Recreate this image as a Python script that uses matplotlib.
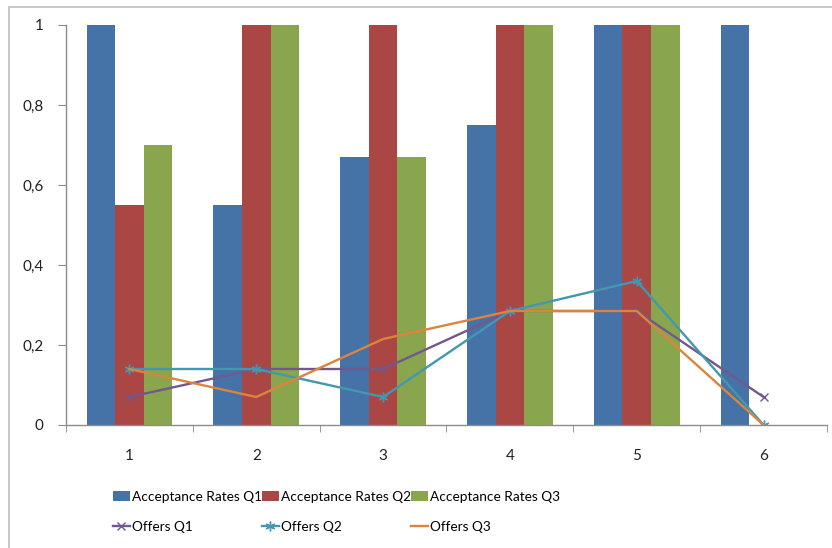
import matplotlib.pyplot as plt
import matplotlib.patches as mpatches
import numpy as np

# ==========================
# DATA
# ==========================

categories = ["1", "2", "3", "4", "5", "6"]

acc_q1 = [1, 0.55, 0.67, 0.75, 1, 1]
acc_q2 = [0.55, 1, 1, 1, 1, 0]
acc_q3 = [0.7, 1, 0.67, 1, 1, 0]

offers_q1 = [0.07, 0.14, 0.14, 0.285, 0.285, 0.07]
offers_q2 = [0.14, 0.14, 0.07, 0.285, 0.36, 0]
offers_q3 = [0.14, 0.07, 0.215, 0.285, 0.285, 0]

yticks = [0, 0.2, 0.4, 0.6, 0.8, 1]
ytick_labels = ["0", "0,2", "0,4", "0,6", "0,8", "1"]

# ==========================
# STYLE
# ==========================

plt.rcParams["font.family"] = ["Lato", "DejaVu Sans"]

blue = "#4572A7"
red = "#AA4643"
green = "#89A54E"
purple = "#71588F"
teal = "#4198AF"
orange = "#DB843D"
axis_gray = "#8C8C8C"

fig = plt.figure(figsize=(8.32, 5.48), dpi=100)

# chart area border (cropped on right / bottom)
fig.patches.append(mpatches.Rectangle(
    (9 / 832, -0.05), 1.0, 1 - 7 / 548 + 0.05,
    transform=fig.transFigure, fill=False,
    edgecolor="#BFBFBF", linewidth=1.2
))

ax = fig.add_axes([66 / 832, 1 - 425 / 548, (827 - 66) / 832, 400 / 548])

x = np.arange(1, len(categories) + 1)
w = 0.225

b1 = ax.bar(x - w, acc_q1, w, color=blue, label="Acceptance Rates Q1")
b2 = ax.bar(x, acc_q2, w, color=red, label="Acceptance Rates Q2")
b3 = ax.bar(x + w, acc_q3, w, color=green, label="Acceptance Rates Q3")

l1, = ax.plot(x, offers_q1, color=purple, linewidth=1.7,
              marker="x", markersize=6, markeredgewidth=1.0,
              label="Offers Q1")
l2, = ax.plot(x, offers_q2, color=teal, linewidth=1.7,
              marker=(6, 2, 0), markersize=7, markeredgewidth=1.0,
              label="Offers Q2")
l3, = ax.plot(x, offers_q3, color=orange, linewidth=1.7,
              label="Offers Q3")

ax.set_xlim(0.5, 6.5)
ax.set_ylim(0, 1)

ax.set_yticks(yticks)
ax.set_yticklabels(ytick_labels)

# labels in the middle, tick marks at category boundaries
ax.set_xticks(x)
ax.set_xticklabels(categories)
ax.set_xticks(np.arange(0.5, 6.6, 1), minor=True)
ax.tick_params(axis="x", which="major", length=0, pad=17)
ax.tick_params(axis="x", which="minor", length=5, color=axis_gray)
ax.tick_params(axis="y", length=6, color=axis_gray, pad=10)
ax.tick_params(labelsize=11, labelcolor="#222222")

for side in ["top", "right"]:
    ax.spines[side].set_visible(False)
for side in ["left", "bottom"]:
    ax.spines[side].set_color(axis_gray)
    ax.spines[side].set_linewidth(1.0)

fig.legend(
    [b1, l1, b2, l2, b3, l3],
    ["Acceptance Rates Q1", "Offers Q1",
     "Acceptance Rates Q2", "Offers Q2",
     "Acceptance Rates Q3", "Offers Q3"],
    ncol=3, loc="upper left", bbox_to_anchor=(106 / 832, 1 - 484 / 548),
    frameon=False, fontsize=9.8, handlelength=1.25, handletextpad=0.15,
    columnspacing=0.0, labelspacing=1.35, borderpad=0
)

plt.savefig("out.png", dpi=100)
